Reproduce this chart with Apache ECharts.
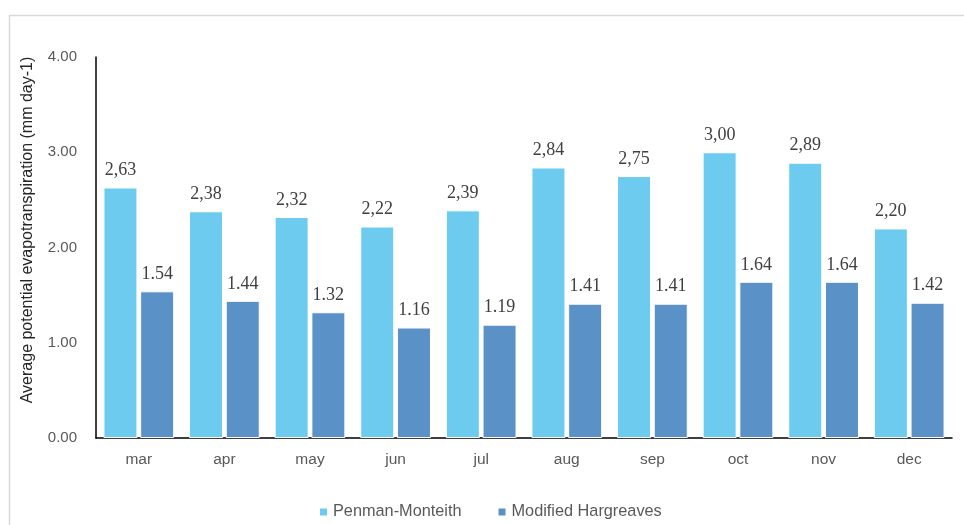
<!DOCTYPE html>
<html>
<head>
<meta charset="utf-8">
<script src="https://cdn.jsdelivr.net/npm/echarts@6/dist/echarts.min.js"></script>
<style>
html,body{margin:0;padding:0;background:#fff;}
#chart{width:964px;height:525px;}
</style>
</head>
<body>
<div id="chart"></div>
<script>
var categories = ['mar','apr','may','jun','jul','aug','sep','oct','nov','dec'];
var penmanMonteith = [2.63,2.38,2.32,2.22,2.39,2.84,2.75,3.00,2.89,2.20];
var modifiedHargreaves = [1.54,1.44,1.32,1.16,1.19,1.41,1.41,1.64,1.64,1.42];
var seriesNames = ['Penman-Monteith','Modified Hargreaves'];
var yAxisName = 'Average potential evapotranspiration (mm day-1)';

var chart = echarts.init(document.getElementById('chart'), null, {renderer:'canvas'});
var labelStyle = {
  show:true, position:'top', distance:8,
  fontFamily:'Liberation Serif', fontSize:18, color:'#404040'
};
chart.setOption({
  animation:false,
  backgroundColor:'#fff',
  graphic:[{
    type:'rect', silent:true, z:-1,
    shape:{x:9.5,y:15.5,width:1000,height:600},
    style:{fill:'none',stroke:'#d9d9d9',lineWidth:1.5}
  }],
  grid:{left:96,right:12,top:57,bottom:87,containLabel:false},
  legend:{
    bottom:0, left:313,
    itemWidth:9, itemHeight:9, itemGap:35,
    icon:'rect',
    textStyle:{fontFamily:'Liberation Sans',fontSize:16.3,color:'#595959'},
    data:seriesNames
  },
  xAxis:{
    type:'category', data:categories,
    axisLine:{lineStyle:{color:'#000',width:1.5}},
    axisTick:{show:false},
    axisLabel:{fontFamily:'Liberation Sans',fontSize:15.5,color:'#595959',margin:14}
  },
  yAxis:{
    type:'value', min:0, max:4, interval:1,
    name:yAxisName, nameLocation:'middle', nameGap:60, nameRotate:90,
    nameTextStyle:{fontFamily:'Liberation Sans',fontSize:16,color:'#262626',padding:[0,0,0,35]},
    axisLine:{show:true,lineStyle:{color:'#000',width:1.5}},
    axisTick:{show:false},
    splitLine:{show:false},
    axisLabel:{fontFamily:'Liberation Sans',fontSize:15,color:'#595959',margin:19,
      formatter:function(v){return v.toFixed(2);}}
  },
  series:[
    {
      name:seriesNames[0], type:'bar', data:penmanMonteith,
      barWidth:34, barGap:'8%',
      itemStyle:{color:'#6DCBF0',borderColor:'#fff',borderWidth:1},
      label:Object.assign({},labelStyle,{formatter:function(p){return p.value.toFixed(2).replace('.',',');}})
    },
    {
      name:seriesNames[1], type:'bar', data:modifiedHargreaves,
      barWidth:34,
      itemStyle:{color:'#5A91C7',borderColor:'#fff',borderWidth:1},
      label:Object.assign({},labelStyle,{formatter:function(p){return p.value.toFixed(2);}})
    }
  ]
});
</script>
</body>
</html>
